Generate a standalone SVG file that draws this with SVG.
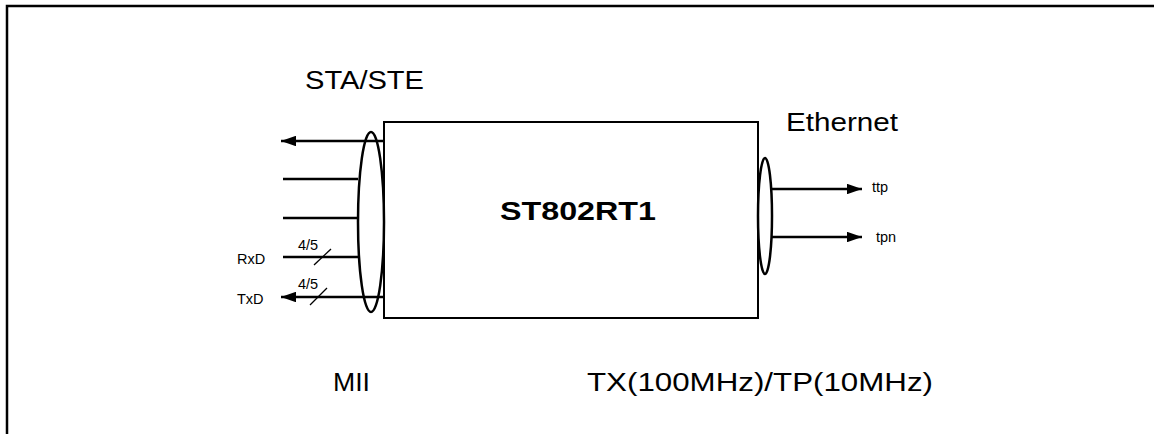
<svg xmlns="http://www.w3.org/2000/svg" width="1154" height="434" viewBox="0 0 1154 434">
<style>
.ln{stroke:#000;stroke-width:2.5;fill:none}
.el{stroke:#000;stroke-width:2.5;fill:none}
.big{font-family:"Liberation Sans",Arial,sans-serif;font-size:26px;fill:#000}
.sm{font-family:"Liberation Sans",Arial,sans-serif;font-size:14.5px;fill:#000}
.bold{font-family:"Liberation Sans",Arial,sans-serif;font-size:26px;font-weight:bold;fill:#000}
</style>
<defs>
<marker id="ah" viewBox="0 0 10 7" refX="10" refY="3.5" markerWidth="6.5" markerHeight="4.2" markerUnits="strokeWidth" orient="auto">
<path d="M0,0 L10,3.5 L0,7 Z" fill="#000"/>
</marker>
</defs>
<rect width="1154" height="434" fill="#fff"/>
<path d="M7,434 V6 H1154" stroke="#000" stroke-width="2.5" fill="none"/>
<g id="chip">
<rect x="384" y="122" width="374" height="196" fill="none" stroke="#000" stroke-width="2"/>
<text class="bold" x="500" y="220" textLength="156" lengthAdjust="spacingAndGlyphs">ST802RT1</text>
</g>
<g id="mii-bus">
<ellipse class="el" cx="371" cy="222" rx="13" ry="90"/>
</g>
<g id="eth-bus">
<ellipse class="el" cx="765" cy="216" rx="7" ry="58"/>
</g>
<g id="connectors">
<line class="ln" x1="384" y1="141" x2="281" y2="141" marker-end="url(#ah)"/>
<line class="ln" x1="358" y1="179" x2="283" y2="179"/>
<line class="ln" x1="358" y1="218" x2="283" y2="218"/>
<line class="ln" x1="283" y1="257" x2="358" y2="257"/>
<line class="ln" x1="384" y1="297" x2="281" y2="297" marker-end="url(#ah)"/>
<line stroke="#000" stroke-width="1.3" x1="314" y1="265" x2="331" y2="249"/>
<line stroke="#000" stroke-width="1.3" x1="310" y1="305" x2="327" y2="288"/>
<line class="ln" x1="772" y1="189" x2="862" y2="189" marker-end="url(#ah)"/>
<line class="ln" x1="772" y1="237" x2="862" y2="237" marker-end="url(#ah)"/>
</g>
<g id="labels">
<text class="big" x="305" y="89" textLength="119" lengthAdjust="spacingAndGlyphs">STA/STE</text>
<text class="big" x="786" y="131" textLength="112" lengthAdjust="spacingAndGlyphs">Ethernet</text>
<text class="big" x="333" y="391" textLength="37" lengthAdjust="spacingAndGlyphs">MII</text>
<text class="big" x="587" y="391" textLength="346" lengthAdjust="spacingAndGlyphs">TX(100MHz)/TP(10MHz)</text>
<text class="sm" x="298" y="250">4/5</text>
<text class="sm" x="298" y="289">4/5</text>
<text class="sm" x="237" y="264">RxD</text>
<text class="sm" x="237" y="304">TxD</text>
<text class="sm" x="872" y="192">ttp</text>
<text class="sm" x="876" y="242">tpn</text>
</g>
</svg>
